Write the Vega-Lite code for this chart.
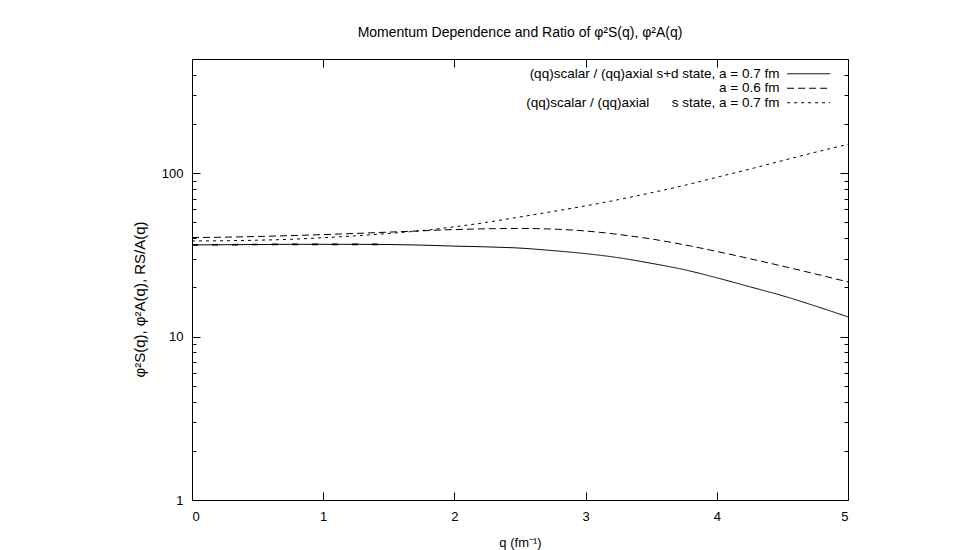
{
  "$schema": "https://vega.github.io/schema/vega-lite/v6.json",
  "width": 656,
  "height": 441,
  "autosize": {"type": "none"},
  "padding": {"left": 192, "top": 59, "right": 127, "bottom": 50},
  "background": "white",
  "title": {
    "text": "Momentum Dependence and Ratio of φ²S(q), φ²A(q)",
    "fontSize": 14,
    "fontWeight": "normal",
    "color": "black",
    "anchor": "middle",
    "offset": 19
  },
  "data": {
    "values": [
      {"q": 0, "v": 36.4, "series": "sd07"},
      {"q": 0.25, "v": 36.5, "series": "sd07"},
      {"q": 0.5, "v": 36.6, "series": "sd07"},
      {"q": 0.75, "v": 36.7, "series": "sd07"},
      {"q": 1, "v": 36.7, "series": "sd07"},
      {"q": 1.25, "v": 36.7, "series": "sd07"},
      {"q": 1.5, "v": 36.6, "series": "sd07"},
      {"q": 1.75, "v": 36.3, "series": "sd07"},
      {"q": 2, "v": 35.8, "series": "sd07"},
      {"q": 2.25, "v": 35.4, "series": "sd07"},
      {"q": 2.5, "v": 34.8, "series": "sd07"},
      {"q": 2.75, "v": 33.6, "series": "sd07"},
      {"q": 3, "v": 32.2, "series": "sd07"},
      {"q": 3.25, "v": 30.4, "series": "sd07"},
      {"q": 3.5, "v": 28.1, "series": "sd07"},
      {"q": 3.75, "v": 25.7, "series": "sd07"},
      {"q": 4, "v": 22.9, "series": "sd07"},
      {"q": 4.25, "v": 20.2, "series": "sd07"},
      {"q": 4.5, "v": 17.8, "series": "sd07"},
      {"q": 4.75, "v": 15.4, "series": "sd07"},
      {"q": 5, "v": 13.2, "series": "sd07"},
      {"q": 0, "v": 40.4, "series": "a06"},
      {"q": 0.25, "v": 40.6, "series": "a06"},
      {"q": 0.5, "v": 41.0, "series": "a06"},
      {"q": 0.75, "v": 41.5, "series": "a06"},
      {"q": 1, "v": 42.1, "series": "a06"},
      {"q": 1.25, "v": 42.8, "series": "a06"},
      {"q": 1.5, "v": 43.6, "series": "a06"},
      {"q": 1.75, "v": 44.4, "series": "a06"},
      {"q": 2, "v": 45.2, "series": "a06"},
      {"q": 2.25, "v": 45.7, "series": "a06"},
      {"q": 2.5, "v": 45.9, "series": "a06"},
      {"q": 2.75, "v": 45.5, "series": "a06"},
      {"q": 3, "v": 44.3, "series": "a06"},
      {"q": 3.25, "v": 42.2, "series": "a06"},
      {"q": 3.5, "v": 39.6, "series": "a06"},
      {"q": 3.75, "v": 36.5, "series": "a06"},
      {"q": 4, "v": 33.2, "series": "a06"},
      {"q": 4.25, "v": 30.0, "series": "a06"},
      {"q": 4.5, "v": 27.0, "series": "a06"},
      {"q": 4.75, "v": 24.2, "series": "a06"},
      {"q": 5, "v": 21.6, "series": "a06"},
      {"q": 0, "v": 38.5, "series": "s07"},
      {"q": 0.25, "v": 38.6, "series": "s07"},
      {"q": 0.5, "v": 38.9, "series": "s07"},
      {"q": 0.75, "v": 39.4, "series": "s07"},
      {"q": 1, "v": 40.3, "series": "s07"},
      {"q": 1.25, "v": 41.4, "series": "s07"},
      {"q": 1.5, "v": 42.8, "series": "s07"},
      {"q": 1.75, "v": 44.5, "series": "s07"},
      {"q": 2, "v": 47.0, "series": "s07"},
      {"q": 2.25, "v": 50.1, "series": "s07"},
      {"q": 2.5, "v": 54.0, "series": "s07"},
      {"q": 2.75, "v": 58.3, "series": "s07"},
      {"q": 3, "v": 63.1, "series": "s07"},
      {"q": 3.25, "v": 68.9, "series": "s07"},
      {"q": 3.5, "v": 75.9, "series": "s07"},
      {"q": 3.75, "v": 84.1, "series": "s07"},
      {"q": 4, "v": 94.4, "series": "s07"},
      {"q": 4.25, "v": 105.9, "series": "s07"},
      {"q": 4.5, "v": 119.4, "series": "s07"},
      {"q": 4.75, "v": 134.3, "series": "s07"},
      {"q": 5, "v": 150.3, "series": "s07"}
    ]
  },
  "layer": [
    {
      "mark": {"type": "line", "color": "black", "strokeWidth": 1, "interpolate": "monotone"},
      "encoding": {
        "x": {
          "field": "q", "type": "quantitative",
          "scale": {"domain": [0, 5], "nice": false, "zero": false},
          "axis": {
            "orient": "bottom",
            "values": [0, 1, 2, 3, 4, 5],
            "format": "d",
            "tickSize": -8,
            "labelPadding": 18,
            "title": "q (fm⁻¹)",
            "titleFontSize": 13,
            "titlePadding": 13
          }
        },
        "y": {
          "field": "v", "type": "quantitative",
          "scale": {"type": "log", "domain": [1, 500], "nice": false},
          "axis": {
            "orient": "left",
            "values": [1, 2, 3, 4, 5, 6, 7, 8, 9, 10, 20, 30, 40, 50, 60, 70, 80, 90, 100, 200, 300, 400, 500],
            "labelExpr": "(datum.value == 1 || datum.value == 10 || datum.value == 100) ? format(datum.value, 'd') : ''",
            "tickSize": {"condition": {"test": "datum.value == 1 || datum.value == 10 || datum.value == 100", "value": -8}, "value": -4},
            "labelPadding": 17,
            "title": "φ²S(q), φ²A(q), RS/A(q)",
            "titleFontSize": 15,
            "titlePadding": 14,
            "titleY": 240
          }
        },
        "strokeDash": {
          "field": "series", "type": "nominal",
          "scale": {"domain": ["sd07", "a06", "s07"], "range": [[1, 0], [7, 4], [3, 4]]},
          "legend": {
            "title": null,
            "orient": "none",
            "legendX": 610,
            "legendY": 8,
            "symbolType": "M-5.4,0H5.4",
            "symbolSize": 64,
            "symbolStrokeWidth": 1,
            "symbolStrokeColor": "black",
            "labelAlign": "right",
            "labelOffset": -36,
            "labelFontSize": 13.5,
            "labelColor": "black",
            "labelLimit": 500,
            "rowPadding": -0.5,
            "padding": 0,
            "labelExpr": "datum.label == 'sd07' ? '(qq)scalar / (qq)axial s+d state, a = 0.7 fm' : datum.label == 'a06' ? 'a = 0.6 fm' : '(qq)scalar / (qq)axial\u00a0\u00a0\u00a0\u00a0\u00a0 s state, a = 0.7 fm'"
          }
        }
      }
    },
    {
      "transform": [{"filter": "datum.series == 'sd07' && datum.q <= 1.5"}],
      "mark": {"type": "line", "color": "black", "strokeWidth": 1.6, "strokeDash": [6, 14], "interpolate": "monotone"},
      "encoding": {
        "x": {
          "field": "q", "type": "quantitative",
          "scale": {"domain": [0, 5], "nice": false, "zero": false},
          "axis": {"orient": "top", "values": [0, 1, 2, 3, 4, 5], "labels": false, "tickSize": -8, "title": null}
        },
        "y": {
          "field": "v", "type": "quantitative",
          "scale": {"type": "log", "domain": [1, 500], "nice": false},
          "axis": {
            "orient": "right",
            "values": [1, 2, 3, 4, 5, 6, 7, 8, 9, 10, 20, 30, 40, 50, 60, 70, 80, 90, 100, 200, 300, 400, 500],
            "labels": false,
            "tickSize": {"condition": {"test": "datum.value == 1 || datum.value == 10 || datum.value == 100", "value": -8}, "value": -4},
            "title": null
          }
        }
      }
    }
  ],
  "resolve": {"axis": {"x": "independent", "y": "independent"}},
  "config": {
    "font": "Liberation Sans",
    "view": {"stroke": null},
    "axis": {
      "grid": false,
      "domainColor": "black",
      "domainWidth": 1,
      "tickColor": "black",
      "tickWidth": 1,
      "labelFontSize": 13,
      "labelColor": "black",
      "titleFontSize": 12,
      "titleFontWeight": "normal",
      "titleColor": "black"
    }
  }
}
